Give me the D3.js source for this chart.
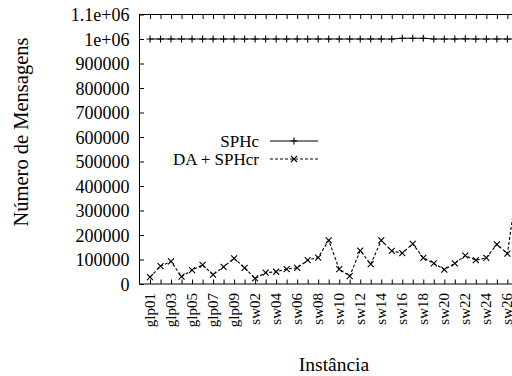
<html>
    <head>
        <script src="https://d3js.org/d3.v7.min.js"></script>
        <style>
            body { margin: 0; background: #fff; }
            text { font-family: "Liberation Serif", "Times New Roman", serif; fill: #000; }
            .axis .domain { stroke: none; }
            .axis line { stroke: #000; }
        </style>
    </head>
    <body>
        <svg height="376" width="512" id="chart"></svg>

        <script>
            // categories (instances) and the two series
            const categories = [
                "glp01", "glp02", "glp03", "glp04", "glp05", "glp06", "glp07", "glp08", "glp09",
                "sw01", "sw02", "sw03", "sw04", "sw05", "sw06", "sw07", "sw08", "sw09", "sw10",
                "sw11", "sw12", "sw13", "sw14", "sw15", "sw16", "sw17", "sw18", "sw19", "sw20",
                "sw21", "sw22", "sw23", "sw24", "sw25", "sw26", "sw27"
            ];
            const sphc = [
                1000000, 1000000, 1000000, 1000000, 1000000, 1000000, 1000000, 1000000, 1000000,
                1000000, 1000000, 1000000, 1000000, 1000000, 1000000, 1000000, 1000000, 1000000,
                1000000, 1000000, 1000000, 1000000, 1000000, 1000000, 1003000, 1003000, 1003000,
                1000000, 1000000, 1000000, 1001000, 1000000, 1000000, 1000000, 1000000, 1000000
            ];
            const daSphcr = [
                28000, 73000, 92000, 30000, 57000, 78000, 38000, 70000, 105000,
                66000, 23000, 46000, 50000, 61000, 66000, 97000, 108000, 178000, 61000,
                32000, 136000, 81000, 178000, 135000, 126000, 164000, 107000, 84000, 59000,
                84000, 116000, 97000, 107000, 162000, 124000, 420000
            ];
            const yTicks = [0, 100000, 200000, 300000, 400000, 500000, 600000, 700000, 800000, 900000, 1000000, 1100000];

            const svg = d3.select("#chart");
            const margin = { left: 139.5, top: 14.5, bottom: 284, right: 528.4 };

            const x = d3.scalePoint().domain(categories).range([margin.left, margin.right]).padding(1);
            const y = d3.scaleLinear().domain([0, 1100000]).range([margin.bottom, margin.top]);

            const yFormat = d => d >= 1000000 ? (d / 1000000) + "e+06" : d3.format("d")(d);

            // y axis, ticks pointing inward
            svg.append("g")
                .attr("class", "axis")
                .attr("transform", `translate(${margin.left},0)`)
                .call(d3.axisLeft(y).tickValues(yTicks).tickSize(-4.5).tickPadding(10).tickFormat(yFormat))
                .selectAll("text")
                .style("font-size", "18px")
                .attr("dy", "0.34em");

            // x axis, every other label
            const xAxis = svg.append("g")
                .attr("class", "axis")
                .attr("transform", `translate(0,${margin.bottom})`)
                .call(d3.axisBottom(x).tickSize(-4.5).tickFormat((d, i) => i % 2 == 0 ? d : ""));
            xAxis.selectAll("text")
                .style("font-size", "15px")
                .attr("text-anchor", "end")
                .attr("transform", "rotate(-90)")
                .attr("x", -9)
                .attr("y", 0)
                .attr("dy", "0.27em");

            // mirrored ticks on the top border
            svg.append("g")
                .attr("class", "axis")
                .attr("transform", `translate(0,${margin.top})`)
                .call(d3.axisTop(x).tickSize(-4.5).tickFormat(""));

            // frame
            svg.append("rect")
                .attr("x", margin.left)
                .attr("y", margin.top)
                .attr("width", margin.right - margin.left)
                .attr("height", margin.bottom - margin.top)
                .attr("fill", "none")
                .attr("stroke", "#000")
                .attr("stroke-width", 1);

            const line = d3.line().x((d, i) => x(categories[i])).y(d => y(d));

            svg.append("path")
                .datum(sphc)
                .attr("d", line)
                .attr("fill", "none")
                .attr("stroke", "#000")
                .attr("stroke-width", 1.1);

            svg.append("path")
                .datum(daSphcr)
                .attr("d", line)
                .attr("fill", "none")
                .attr("stroke", "#000")
                .attr("stroke-width", 1.1)
                .attr("stroke-dasharray", "3,2");

            const plus = (cx, cy, r) => `M${cx - r},${cy}H${cx + r}M${cx},${cy - r}V${cy + r}`;
            const cross = (cx, cy, r) => `M${cx - r},${cy - r}L${cx + r},${cy + r}M${cx - r},${cy + r}L${cx + r},${cy - r}`;

            svg.append("g").selectAll("path").data(sphc).join("path")
                .attr("d", (d, i) => plus(x(categories[i]), y(d), 3.5))
                .attr("stroke", "#000")
                .attr("stroke-width", 1.1);

            svg.append("g").selectAll("path").data(daSphcr).join("path")
                .attr("d", (d, i) => cross(x(categories[i]), y(d), 3))
                .attr("stroke", "#000")
                .attr("stroke-width", 1.1);

            // legend
            const legend = svg.append("g").attr("class", "legend");
            const entries = [
                { label: "SPHc", dash: null, mark: plus, r: 3.5 },
                { label: "DA + SPHcr", dash: "3,2", mark: cross, r: 3 }
            ];
            entries.forEach(function (e, i) {
                const ly = 141 + i * 18;
                legend.append("text")
                    .attr("x", 259)
                    .attr("y", ly)
                    .attr("dy", "0.34em")
                    .attr("text-anchor", "end")
                    .style("font-size", "17px")
                    .text(e.label);
                legend.append("line")
                    .attr("x1", 270).attr("x2", 318)
                    .attr("y1", ly).attr("y2", ly)
                    .attr("stroke", "#000")
                    .attr("stroke-width", 1.1)
                    .attr("stroke-dasharray", e.dash);
                legend.append("path")
                    .attr("d", e.mark(294, ly, e.r))
                    .attr("stroke", "#000")
                    .attr("stroke-width", 1.1);
            });

            // axis titles
            svg.append("text")
                .attr("x", 334)
                .attr("y", 371)
                .attr("text-anchor", "middle")
                .style("font-size", "19.5px")
                .text("Instância");

            svg.append("text")
                .attr("transform", "translate(28,132) rotate(-90)")
                .attr("text-anchor", "middle")
                .style("font-size", "20.5px")
                .text("Número de Mensagens");
        </script>
    </body>
</html>
